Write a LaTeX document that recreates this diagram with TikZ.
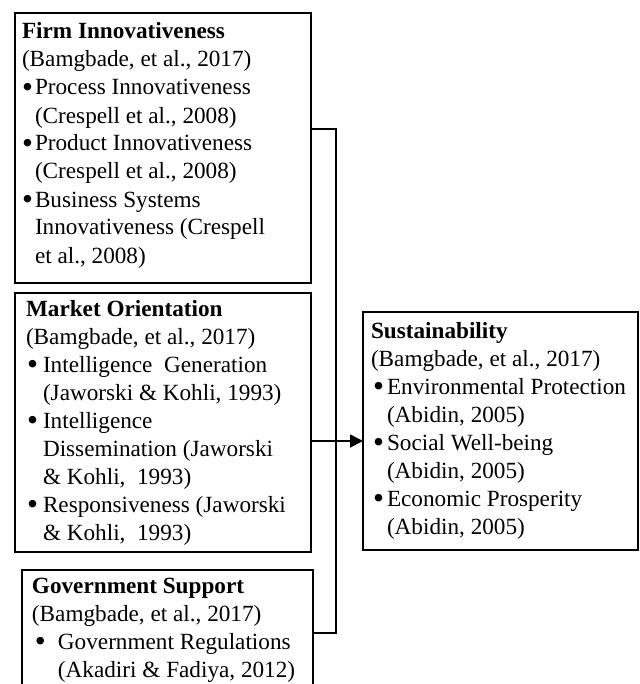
\documentclass[tikz,border=0pt]{standalone}
\usepackage{fontspec}
\setmainfont{Liberation Serif}
\usetikzlibrary{arrows.meta}
\newcommand{\bul}{\raisebox{-0.09em}{\scalebox{1.35}{\textbullet}}}
\newcommand{\itm}[2]{\makebox[#1][l]{\bul}#2}
\newcommand{\cnt}[2]{\hspace*{#1}#2}
\newcommand{\fl}{\rule{0pt}{10pt}}
\begin{document}
\begin{tikzpicture}[x=0.5pt,y=-0.5pt,
  boxn/.style={draw, line width=0.9pt, anchor=north west, inner sep=0pt, outer sep=0pt},
  txt/.style={anchor=north west, inner sep=0pt, outer sep=0pt, align=left,
    font=\fontsize{11.6pt}{14pt}\selectfont},
  conn/.style={draw, line width=0.9pt}]
\useasboundingbox (0,0) rectangle (640,684);
\clip (0,0) rectangle (640,684);
% boxes
\node[boxn, minimum width=148pt, minimum height=135pt] (fi) at (15,13) {};
\node[boxn, minimum width=148pt, minimum height=129.5pt] (mo) at (15,293) {};
\node[boxn, minimum width=145.5pt, minimum height=65pt] (gs) at (22,570) {};
\node[boxn, minimum width=137.5pt, minimum height=119pt] (su) at (363,312) {};
% texts
\node[txt] (fit) at (22,19) {\fl\textbf{Firm Innovativeness}\\
(Bamgbade, et al., 2017)\\
\itm{6.5pt}{Process Innovativeness}\\
\cnt{6.5pt}{(Crespell et al., 2008)}\\
\itm{6.5pt}{Product Innovativeness}\\
\cnt{6.5pt}{(Crespell et al., 2008)}\\
\itm{6.5pt}{Business Systems}\\
\cnt{6.5pt}{Innovativeness (Crespell}\\
\cnt{6.5pt}{et al., 2008)}};
\node[txt] (mot) at (26,296) {\fl\textbf{Market Orientation}\\
(Bamgbade, et al., 2017)\\
\hspace*{0.5pt}\itm{8pt}{Intelligence\ \ Generation}\\
\cnt{8.5pt}{(Jaworski \& Kohli, 1993)}\\
\hspace*{0.5pt}\itm{8pt}{Intelligence}\\
\cnt{8.5pt}{Dissemination (Jaworski}\\
\cnt{8.5pt}{\& Kohli,\ \ 1993)}\\
\hspace*{0.5pt}\itm{8pt}{Responsiveness (Jaworski}\\
\cnt{8.5pt}{\& Kohli,\ \ 1993)}};
\node[txt] (gst) at (32,573) {\fl\textbf{Government Support}\\
(Bamgbade, et al., 2017)\\
\hspace*{1.5pt}\itm{11.5pt}{Government Regulations}\\
\cnt{13pt}{(Akadiri \& Fadiya, 2012)}};
\node[txt] (sut) at (371,318) {\fl\textbf{Sustainability}\\
(Bamgbade, et al., 2017)\\
\hspace*{1pt}\itm{7pt}{Environmental Protection}\\
\cnt{8pt}{(Abidin, 2005)}\\
\hspace*{1pt}\itm{7pt}{Social Well-being}\\
\cnt{8pt}{(Abidin, 2005)}\\
\hspace*{1pt}\itm{7pt}{Economic Prosperity}\\
\cnt{8pt}{(Abidin, 2005)}};
% connectors
\coordinate (j1) at (336,129);
\coordinate (j2) at (336,633);
\coordinate (ja) at (336,441);
\draw[conn] (fi.east |- j1) -- (j1) -- (j2) -- (gs.east |- j2);
\draw[conn, -{Triangle[length=6.5pt,width=6.5pt]}] (mo.east |- ja) -- (su.west |- ja);
\end{tikzpicture}
\end{document}
